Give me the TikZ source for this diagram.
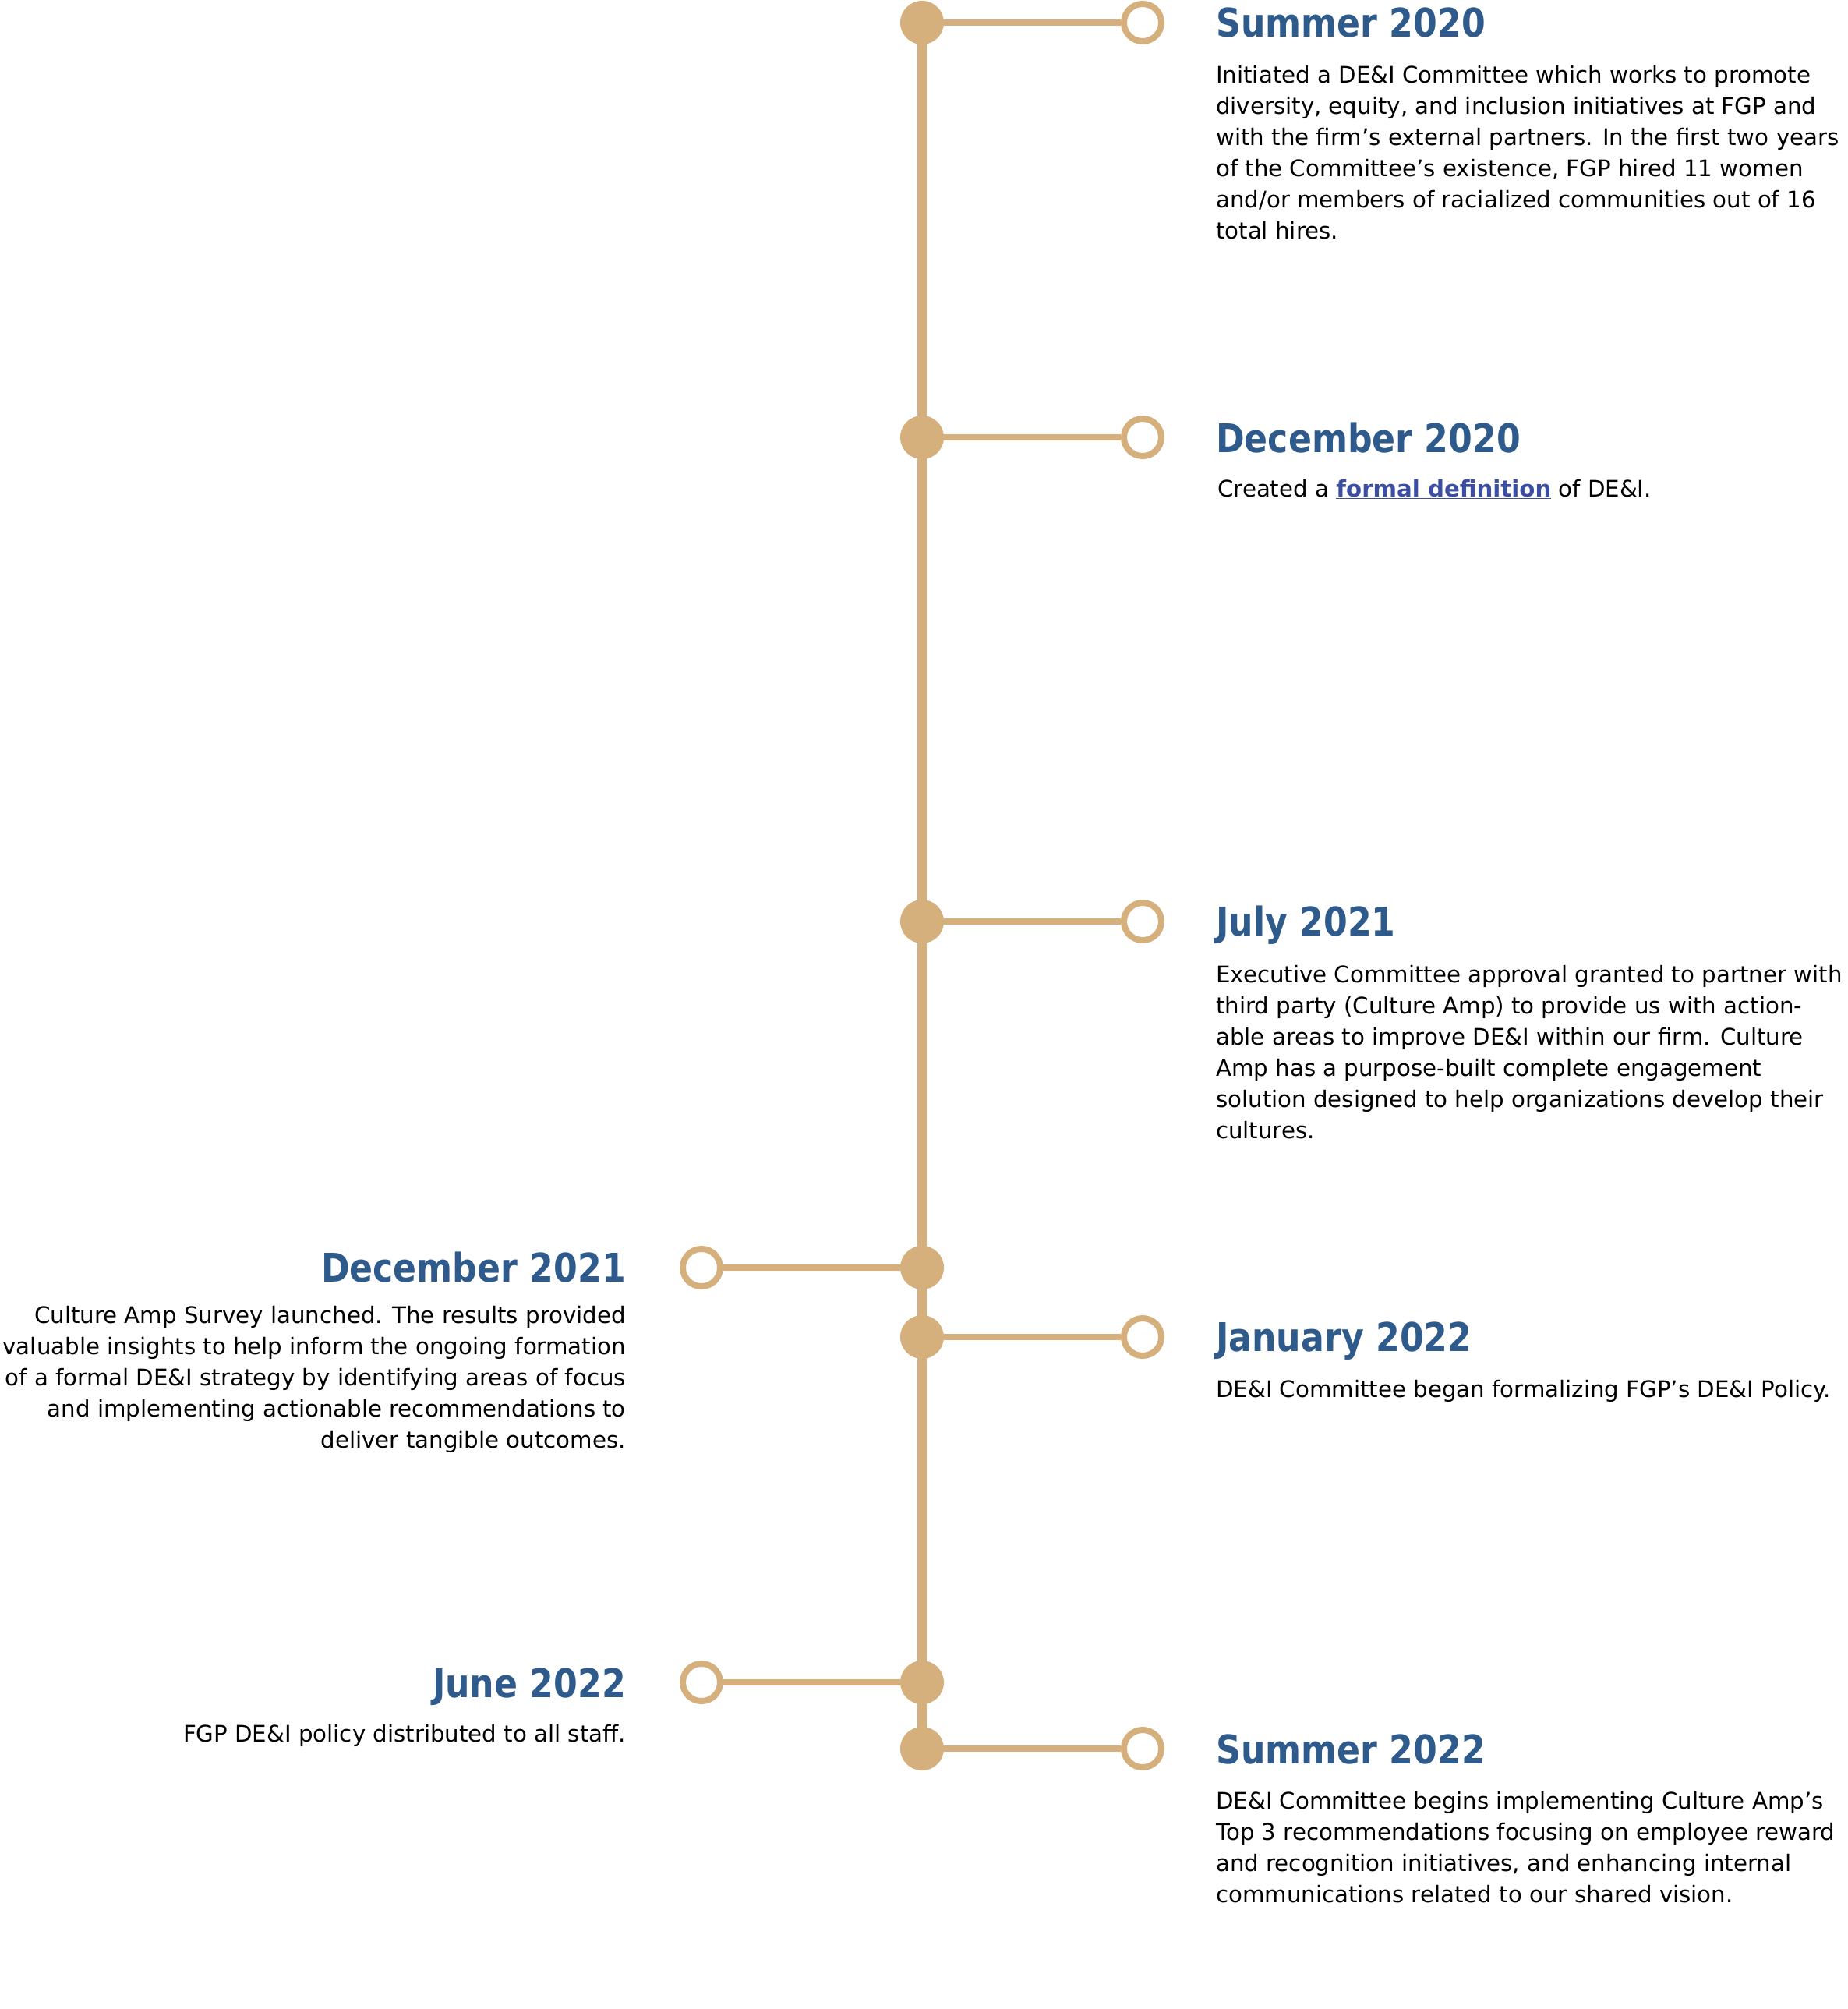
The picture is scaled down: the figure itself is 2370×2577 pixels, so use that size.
\documentclass[tikz,border=0pt]{standalone}
\usepackage{fontspec}
\setmainfont{DejaVu Sans}
\newfontfamily\headfont{DejaVu Sans}[FakeStretch=0.87]
\usetikzlibrary{positioning}
\definecolor{gold}{RGB}{213,176,125}
\definecolor{navy}{RGB}{46,90,140}
\definecolor{linkblue}{RGB}{59,78,163}

\begin{document}
\begin{tikzpicture}[x=1pt,y=-1pt,
    dot/.style={circle,fill=gold,inner sep=0pt,minimum size=56pt},
    ring/.style={circle,draw=gold,line width=8pt,fill=white,inner sep=0pt,minimum size=48pt},
    stem/.style={draw=gold,line width=8pt},
    spine/.style={draw=gold,line width=12.5pt},
    head/.style={font=\headfont\bfseries\fontsize{50.8}{60}\selectfont,text=navy,inner sep=0pt},
    body/.style={font=\fontsize{29.25}{40}\selectfont,inner sep=0pt}]
    \useasboundingbox (0,0) rectangle (2370,2577);

    % dots on the time line
    \node [dot] (s20) at (1183,29) {};
    \node [dot] (d20) at (1183,561) {};
    \node [dot] (j21) at (1183,1182) {};
    \node [dot] (d21) at (1183,1626) {};
    \node [dot] (j22) at (1183,1715) {};
    \node [dot] (u22) at (1183,2158) {};
    \node [dot] (m22) at (1183,2243) {};
    \draw [spine] (s20.center) -- (m22.center);

    % rings and stems
    \node [ring] (s20r) at (1466,29) {};
    \node [ring] (d20r) at (1466,561) {};
    \node [ring] (j21r) at (1466,1182) {};
    \node [ring] (d21r) at (900,1626) {};
    \node [ring] (j22r) at (1466,1715) {};
    \node [ring] (u22r) at (900,2158) {};
    \node [ring] (m22r) at (1466,2243) {};
    \draw [stem] (s20) -- (s20r);
    \draw [stem] (d20) -- (d20r);
    \draw [stem] (j21) -- (j21r);
    \draw [stem] (d21) -- (d21r);
    \draw [stem] (j22) -- (j22r);
    \draw [stem] (u22) -- (u22r);
    \draw [stem] (m22) -- (m22r);

    % right side (body: first baseline 28pt below the top)
    \node [head,anchor=base west] (s20h) at (1560,48) {Summer 2020};
    \node [body,anchor=north west,align=left] (s20b) at (1560,78)
      {\strut Initiated a DE\&I Committee which works to promote\\
       diversity, equity, and inclusion initiatives at FGP and\\
       with the firm’s external partners. In the first two years\\
       of the Committee’s existence, FGP hired 11 women\\
       and/or members of racialized communities out of 16\\
       total hires.};

    \node [head,anchor=base west] (d20h) at (1560,580) {December 2020};
    \node [body,anchor=north west,align=left] (d20b) at (1562,609)
      {\strut Created a {\bfseries\color{linkblue}\underline{formal definition}} of DE\&I.};

    \node [head,anchor=base west] (j21h) at (1560,1200) {July 2021};
    \node [body,anchor=north west,align=left] (j21b) at (1560,1232)
      {\strut Executive Committee approval granted to partner with\\
       third party (Culture Amp) to provide us with action-\\
       able areas to improve DE\&I within our firm. Culture\\
       Amp has a purpose-built complete engagement\\
       solution designed to help organizations develop their\\
       cultures.};

    \node [head,anchor=base west] (j22h) at (1560,1733) {January 2022};
    \node [body,anchor=north west,align=left] (j22b) at (1560,1764)
      {\strut DE\&I Committee began formalizing FGP’s DE\&I Policy.};

    \node [head,anchor=base west] (m22h) at (1560,2262) {Summer 2022};
    \node [body,anchor=north west,align=left] (m22b) at (1560,2292)
      {\strut DE\&I Committee begins implementing Culture Amp’s\\
       Top 3 recommendations focusing on employee reward\\
       and recognition initiatives, and enhancing internal\\
       communications related to our shared vision.};

    % left side
    \node [head,anchor=base east] (d21h) at (803,1644) {December 2021};
    \node [body,anchor=north east,align=right] (d21b) at (803,1669)
      {\strut Culture Amp Survey launched. The results provided\\
       valuable insights to help inform the ongoing formation\\
       of a formal DE\&I strategy by identifying areas of focus\\
       and implementing actionable recommendations to\\
       deliver tangible outcomes.};

    \node [head,anchor=base east] (u22h) at (803,2177) {June 2022};
    \node [body,anchor=north east,align=right] (u22b) at (803,2206)
      {\strut FGP DE\&I policy distributed to all staff.};
\end{tikzpicture}
\end{document}
